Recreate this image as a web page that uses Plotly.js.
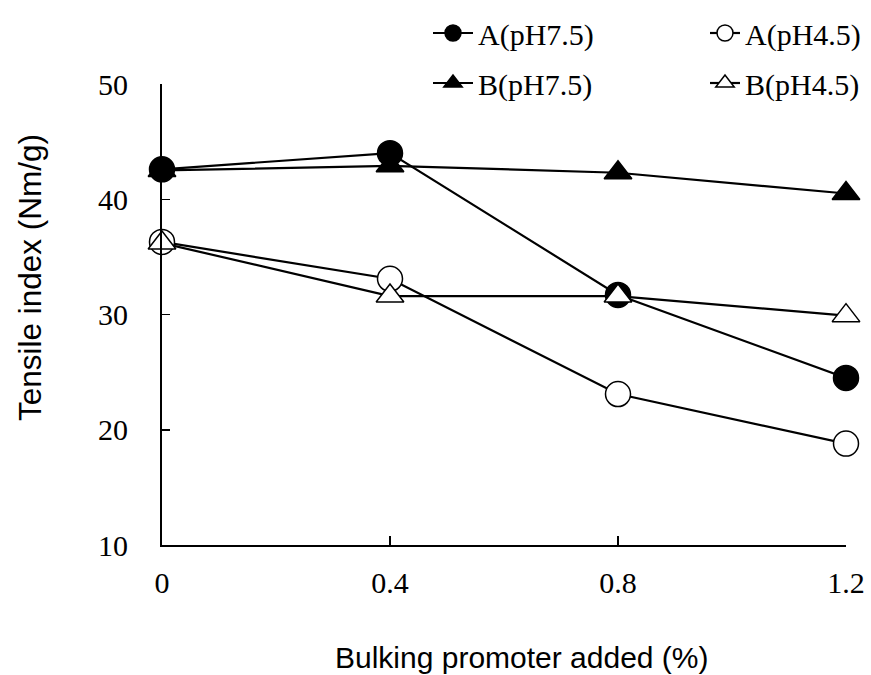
<!DOCTYPE html>
<html>
<head>
<meta charset="utf-8">
<script src="https://cdn.plot.ly/plotly-3.0.1.min.js"></script>
<style>html,body{margin:0;padding:0;background:#fff;}#chart{width:871px;height:675px;}</style>
</head>
<body>
<div id="chart"></div>
<script>
const xValues = [0, 0.4, 0.8, 1.2];
const xTickLabels = ["0", "0.4", "0.8", "1.2"];
const yTickValues = [10, 20, 30, 40, 50];
const seriesNames = ["A(pH7.5)", "A(pH4.5)", "B(pH7.5)", "B(pH4.5)"];
const aPH75 = [42.6, 44.0, 31.7, 24.5];
const aPH45 = [36.3, 33.1, 23.1, 18.8];
const bPH75 = [42.5, 42.9, 42.3, 40.5];
const bPH45 = [36.2, 31.6, 31.6, 29.9];
const xTitle = "Bulking promoter added (%)";
const yTitle = "Tensile index (Nm/g)";

const serif = "Liberation Serif, Times New Roman, serif";
const sans = "Liberation Sans, Arial, sans-serif";

function tr(name, y, symbol, fill, legend, size) {
  return {
    type: "scatter", mode: "lines+markers", name: name, x: xValues, y: y,
    legend: legend, legendgroup: name, cliponaxis: false,
    line: {color: "#000", width: 2.2},
    marker: {symbol: symbol, size: size, color: fill, line: {color: "#000", width: 1.5}}
  };
}

const data = [
  tr(seriesNames[0], aPH75, "circle", "#000", "legend", 25),
  tr(seriesNames[2], bPH75, "triangle-up", "#000", "legend", 24),
  tr(seriesNames[1], aPH45, "circle", "#fff", "legend2", 25),
  tr(seriesNames[3], bPH45, "triangle-up", "#fff", "legend2", 24)
];

const legendCommon = {
  orientation: "v", xanchor: "left", yanchor: "middle",
  font: {family: serif, size: 30, color: "#000"},
  bgcolor: "rgba(0,0,0,0)", borderwidth: 0,
  tracegroupgap: 8, traceorder: "grouped"
};

const layout = {
  width: 871, height: 675, autosize: false,
  margin: {l: 162, r: 25, t: 84, b: 130, pad: 0, autoexpand: false},
  paper_bgcolor: "#fff", plot_bgcolor: "#fff",
  showlegend: true,
  legend: Object.assign({}, legendCommon, {x: (428 - 162) / 684, y: (545 - 58) / 461, itemwidth: 40}),
  legend2: Object.assign({}, legendCommon, {x: (705 - 162) / 684, y: (545 - 58) / 461, itemwidth: 30}),
  xaxis: {
    range: [0, 1.2], tickmode: "array", tickvals: xValues, ticktext: xTickLabels,
    showgrid: false, zeroline: false, showline: true, linecolor: "#000", linewidth: 2,
    ticks: "inside", ticklen: 9, tickwidth: 1.5, tickcolor: "#000",
    ticklabelstandoff: 10, automargin: false,
    tickfont: {family: serif, size: 30, color: "#000"}, fixedrange: true
  },
  yaxis: {
    range: [10, 50], tickmode: "array", tickvals: yTickValues,
    showgrid: false, zeroline: false, showline: true, linecolor: "#000", linewidth: 2,
    ticks: "inside", ticklen: 8, tickwidth: 1.5, tickcolor: "#000",
    ticklabelstandoff: 26, automargin: false,
    tickfont: {family: serif, size: 30, color: "#000"}, fixedrange: true
  },
  annotations: [
    {text: yTitle, xref: "paper", yref: "paper", x: (30 - 162) / 684, y: (545 - 278) / 461,
     xanchor: "center", yanchor: "middle", textangle: -90, showarrow: false,
     font: {family: sans, size: 31.5, color: "#000"}},
    {text: xTitle, xref: "paper", yref: "paper", x: (522 - 162) / 684, y: (545 - 657) / 461,
     xanchor: "center", yanchor: "middle", showarrow: false,
     font: {family: sans, size: 30, color: "#000"}}
  ]
};

Plotly.newPlot("chart", data, layout, {displayModeBar: false, staticPlot: true});
</script>
</body>
</html>
